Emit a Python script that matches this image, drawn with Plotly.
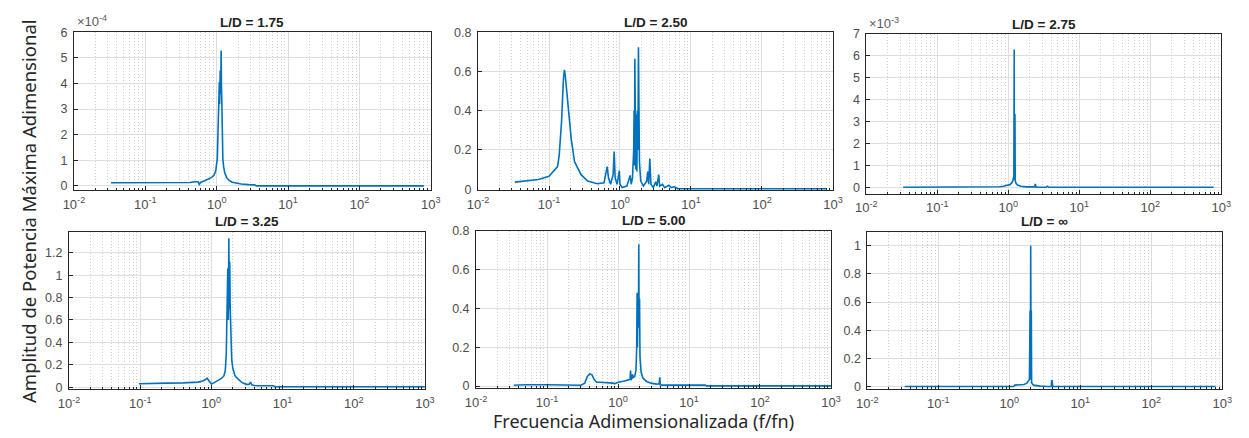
import plotly.graph_objects as go

W, H = 1249, 438
BLUE = "#0072BD"

# ---- spectra (x: f/fn, y: normalised power amplitude) ----
titles = ["L/D = 1.75", "L/D = 2.50", "L/D = 2.75", "L/D = 3.25", "L/D = 5.00", "L/D = ∞"]

# L/D = 1.75  (y in units of 1e-4)
f_175 = [0.033, 0.1, 0.2, 0.3, 0.42, 0.5, 0.55, 0.57, 0.6, 0.68, 0.77, 0.85, 0.92, 0.97,
         1.02, 1.05, 1.07, 1.09, 1.10, 1.12, 1.14, 1.155, 1.165, 1.18, 1.2, 1.22, 1.25,
         1.3, 1.38, 1.48, 1.65, 1.85, 2.2, 2.8, 3.4, 3.6, 10, 100, 800]
a_175 = [0.12, 0.12, 0.12, 0.12, 0.13, 0.16, 0.16, 0.06, 0.14, 0.2, 0.26, 0.33, 0.42, 0.6,
         1.05, 2.3, 3.0, 4.05, 3.2, 4.5, 3.6, 5.28, 4.0, 3.33, 1.9, 1.07, 0.75,
         0.5, 0.32, 0.22, 0.14, 0.1, 0.07, 0.05, 0.04, 0.0, 0.0, 0.0, 0.0]

# L/D = 2.50
f_250 = [0.033, 0.071, 0.1, 0.132, 0.139, 0.150, 0.160, 0.165, 0.170, 0.177, 0.191, 0.206,
         0.229, 0.283, 0.35, 0.48, 0.596, 0.628, 0.66, 0.69, 0.737, 0.80, 0.828, 0.855,
         0.91, 0.98, 1.0, 1.07, 1.25, 1.39, 1.44, 1.50, 1.56, 1.58, 1.60, 1.62, 1.635,
         1.65, 1.67, 1.70, 1.73, 1.76, 1.79, 1.82, 1.85, 1.88, 1.96, 2.14, 2.38, 2.46,
         2.54, 2.63, 2.73, 2.95, 3.19, 3.32, 3.51, 3.63, 3.98, 4.25, 4.87, 5.25, 5.8,
         6.5, 7.6, 100, 800]
a_250 = [0.036, 0.049, 0.066, 0.115, 0.17, 0.34, 0.567, 0.608, 0.575, 0.50, 0.37, 0.254,
         0.14, 0.074, 0.041, 0.028, 0.033, 0.082, 0.115, 0.057, 0.025, 0.074, 0.192, 0.057,
         0.025, 0.094, 0.025, 0.008, 0.016, 0.07, 0.025, 0.057, 0.2, 0.40, 0.12, 0.665, 0.15,
         0.40, 0.1, 0.38, 0.09, 0.40, 0.2, 0.723, 0.3, 0.14, 0.041, 0.016, 0.041, 0.09,
         0.025, 0.156, 0.025, 0.008, 0.038, 0.016, 0.074, 0.016, 0.025, 0.008, 0.02, 0.008, 0.012,
         0.003, 0.002, 0.002, 0.002]

# L/D = 2.75  (y in units of 1e-3)
f_275 = [0.033, 0.1, 0.5, 0.75, 0.85, 0.95, 1.05, 1.12, 1.16, 1.18, 1.19, 1.195, 1.20,
         1.205, 1.21, 1.215, 1.22, 1.225, 1.23, 1.235, 1.24, 1.25, 1.28, 1.35, 1.5, 1.8,
         2.2, 2.35, 2.4, 2.45, 2.6, 3.4, 3.55, 3.7, 10, 100, 780]
a_275 = [0.0, 0.0, 0.0, 0.02, 0.05, 0.08, 0.12, 0.2, 0.3, 0.45, 3.35, 0.4, 3.35,
         0.4, 6.3, 0.4, 3.35, 0.4, 3.35, 0.35, 3.35, 0.3, 0.18, 0.1, 0.05, 0.02,
         0.01, 0.02, 0.15, 0.02, 0.0, 0.0, 0.05, 0.0, 0.0, 0.0, 0.0]

# L/D = 3.25
f_325 = [0.096, 0.15, 0.22, 0.24, 0.4, 0.55, 0.65, 0.75, 0.82, 0.87, 0.92, 1.0, 1.1, 1.25,
         1.4, 1.5, 1.57, 1.62, 1.66, 1.70, 1.73, 1.76, 1.785, 1.81, 1.84, 1.88, 1.93, 2.0,
         2.15, 2.4, 2.7, 3.1, 3.4, 3.55, 3.7, 4.0, 4.5, 7.5, 7.7, 100, 1000]
a_325 = [0.03, 0.03, 0.03, 0.036, 0.038, 0.04, 0.045, 0.055, 0.065, 0.08, 0.06, 0.028, 0.04, 0.06,
         0.08, 0.1, 0.15, 0.3, 0.65, 1.06, 0.6, 1.33, 0.7, 1.12, 0.7, 0.4, 0.25, 0.17,
         0.1, 0.07, 0.04, 0.025, 0.025, 0.045, 0.02, 0.015, 0.012, 0.012, 0.004, 0.004, 0.004]

# L/D = 5.00
f_500 = [0.034, 0.05, 0.1, 0.135, 0.15, 0.3, 0.34, 0.37, 0.40, 0.43, 0.46, 0.5, 0.55, 0.7,
         0.85, 0.9, 1.0, 1.2, 1.4, 1.48, 1.5, 1.53, 1.57, 1.6, 1.65, 1.72, 1.79, 1.83, 1.86,
         1.88, 1.91, 1.94, 1.96, 1.98, 2.01, 2.04, 2.07, 2.12, 2.25, 2.5, 2.9, 3.5, 3.8,
         3.87, 3.95, 4.1, 10, 17, 17.5, 100, 1000]
a_500 = [0.004, 0.007, 0.007, 0.007, 0.004, 0.004, 0.015, 0.05, 0.062, 0.058, 0.035, 0.02, 0.02, 0.018,
         0.015, 0.012, 0.02, 0.025, 0.03, 0.035, 0.08, 0.03, 0.04, 0.06, 0.045, 0.05, 0.08, 0.19, 0.48,
         0.2, 0.48, 0.3, 0.73, 0.3, 0.45, 0.15, 0.1, 0.07, 0.04, 0.025, 0.015, 0.01, 0.012,
         0.045, 0.006, 0.005, 0.005, 0.005, 0.001, 0.001, 0.001]

# L/D = infinity
f_inf = [0.0335, 0.1, 0.5, 1.15, 1.2, 1.4, 1.6, 1.75, 1.85, 1.92, 1.96, 1.98, 1.99, 2.0,
         2.01, 2.02, 2.03, 2.04, 2.06, 2.1, 2.2, 2.4, 2.7, 3.5, 3.9, 3.95, 4.0, 4.1, 10, 100, 800]
a_inf = [0.0, 0.0, 0.0, 0.0, 0.01, 0.012, 0.015, 0.022, 0.035, 0.05, 0.54, 0.05, 0.54, 1.0,
         0.05, 0.54, 0.05, 0.54, 0.03, 0.02, 0.01, 0.005, 0.003, 0.0, 0.0, 0.04, 0.04, 0.0, 0.0, 0.0, 0.0]

series = [(f_175, a_175), (f_250, a_250), (f_275, a_275),
          (f_325, a_325), (f_500, a_500), (f_inf, a_inf)]

# y ticks per panel
yticks = [
    [0, 1, 2, 3, 4, 5, 6],
    [0, 0.2, 0.4, 0.6, 0.8],
    [0, 1, 2, 3, 4, 5, 6, 7],
    [0, 0.2, 0.4, 0.6, 0.8, 1, 1.2],
    [0, 0.2, 0.4, 0.6, 0.8],
    [0, 0.2, 0.4, 0.6, 0.8, 1],
]
yranges = [[-0.16, 6], [-0.004, 0.8], [-0.3, 7], [-0.02, 1.39], [-0.012, 0.8], [-0.02, 1.1]]
exponents = ["×10<sup>-4</sup>", None, "×10<sup>-3</sup>", None, None, None]

xtick_vals = [0.01, 0.1, 1, 10, 100, 1000]
xtick_text = ["10<sup>-2</sup>", "10<sup>-1</sup>", "10<sup>0</sup>",
              "10<sup>1</sup>", "10<sup>2</sup>", "10<sup>3</sup>"]

# axes boxes in pixels: left, top, right, bottom
boxes = [(64, 26, 427, 189), (475, 26, 836, 189), (870, 28, 1231, 193),
         (59, 232, 421, 395), (473, 231, 834, 394), (871, 232, 1232, 395)]

minor_vals = [k * 10.0 ** d for d in range(-2, 3) for k in range(2, 10)]

SANS = "Liberation Sans, Arial, sans-serif"
XTICK_FONT = dict(family=SANS, size=13, color="#4d4d4d")
YTICK_FONT = dict(family=SANS, size=12.5, color="#4d4d4d")
AX_COLOR = "#262626"

fig = go.Figure()
annotations = []

for i, ((fx, ay), box) in enumerate(zip(series, boxes)):
    n = i + 1
    xa = "x" if n == 1 else f"x{n}"
    ya = "y" if n == 1 else f"y{n}"
    fig.add_trace(go.Scatter(x=fx, y=ay, mode="lines", xaxis=xa, yaxis=ya,
                             line=dict(color=BLUE, width=1.6), showlegend=False,
                             hoverinfo="x+y"))
    l, t, r, b = box
    xdom = [l / W, r / W]
    ydom = [1 - b / H, 1 - t / H]
    xkey = "xaxis" if n == 1 else f"xaxis{n}"
    ykey = "yaxis" if n == 1 else f"yaxis{n}"
    fig.layout[xkey] = dict(
        domain=xdom, anchor=ya, type="log", range=[-2, 3],
        tickmode="array", tickvals=xtick_vals, ticktext=xtick_text,
        ticks="inside", ticklen=4, tickcolor=AX_COLOR,
        showline=True, mirror=True, linecolor=AX_COLOR, linewidth=1,
        showgrid=True, gridcolor="#dedede", gridwidth=1,
        minor=dict(tickmode="array", tickvals=minor_vals, ticks="inside", ticklen=2,
                   tickcolor=AX_COLOR, showgrid=True, gridcolor="#cfcfcf",
                   griddash="1px,2px", gridwidth=1),
        tickfont=XTICK_FONT, zeroline=False, ticklabelstandoff=2,
    )
    fig.layout[ykey] = dict(
        domain=ydom, anchor=xa, range=yranges[i],
        tickmode="array", tickvals=yticks[i],
        ticks="inside", ticklen=4, tickcolor=AX_COLOR,
        showline=True, mirror=True, linecolor=AX_COLOR, linewidth=1,
        showgrid=True, gridcolor="#dedede", gridwidth=1,
        tickfont=YTICK_FONT, zeroline=False, ticklabelstandoff=3,
    )
    # panel title
    annotations.append(dict(
        text=f"<b>{titles[i]}</b>", xref="paper", yref="paper",
        x=(l + r) / 2 / W, y=1 - (t - 10) / H, xanchor="center", yanchor="middle",
        showarrow=False, font=dict(family=SANS, size=13.5, color="#212121")))
    if exponents[i]:
        annotations.append(dict(
            text=exponents[i], xref="paper", yref="paper",
            x=(l + 1) / W, y=1 - (t - 1) / H, xanchor="left", yanchor="bottom",
            showarrow=False, font=dict(family=SANS, size=13, color="#5a5a5a")))

# shared axis titles
annotations.append(dict(
    text="Amplitud de Potencia Máxima Adimensional", xref="paper", yref="paper",
    x=18 / W, y=1 - 211 / H, xanchor="center", yanchor="middle", textangle=-90,
    showarrow=False, font=dict(family="Noto Sans, sans-serif", size=18.5, color="#262626")))
annotations.append(dict(
    text="Frecuencia Adimensionalizada (f/fn)", xref="paper", yref="paper",
    x=643 / W, y=1 - 428 / H, xanchor="center", yanchor="middle",
    showarrow=False, font=dict(family="Noto Sans, sans-serif", size=18, color="#262626")))

fig.update_layout(
    width=W, height=H, margin=dict(l=0, r=0, t=0, b=0),
    paper_bgcolor="white", plot_bgcolor="white",
    annotations=annotations, showlegend=False,
)

fig.write_html("out.html")
